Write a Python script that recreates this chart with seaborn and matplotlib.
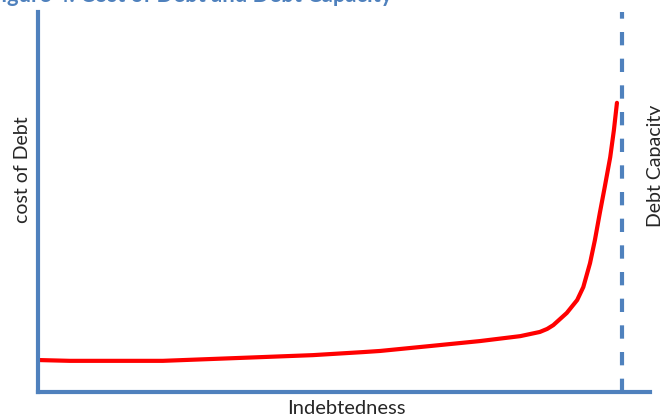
import numpy as np
import pandas as pd
import matplotlib
matplotlib.use("Agg")
import matplotlib.pyplot as plt
import seaborn as sns

# values (axis scaled 0-100 both ways)
indebtedness = [0.3, 5.2, 10.1, 20.4, 28.6, 36.8, 44.9, 53.1, 55.9, 64.1,
                72.2, 78.8, 82.0, 83.2, 84.2, 86.4, 88.1, 89.1, 90.2, 91.0,
                91.8, 92.6, 93.5, 94.1, 94.6]
cost_of_debt = [8.4, 8.2, 8.2, 8.2, 8.7, 9.2, 9.7, 10.5, 10.8, 12.1,
                13.4, 14.7, 15.8, 16.6, 17.6, 20.8, 24.2, 27.6, 33.9, 40.0,
                47.1, 53.9, 61.8, 68.9, 76.1]
debt_capacity = 95.4

title = "Figure 4: Cost of Debt and Debt Capacity"
x_label = "Indebtedness"
y_label = "cost of Debt"
cap_label = "Debt Capacity"

blue = "#4F81BD"

sns.set_style("white")
plt.rcParams["font.family"] = ["Lato", "DejaVu Sans"]

df = pd.DataFrame({"x": indebtedness, "y": cost_of_debt})

fig = plt.figure(figsize=(6.6, 4.15), dpi=100)
ax = fig.add_axes([38 / 660, 23 / 415, 612 / 660, 380 / 415])

sns.lineplot(data=df, x="x", y="y", color="red", linewidth=3, sort=False, ax=ax)
ax.lines[0].set_solid_joinstyle("round")
ax.axvline(debt_capacity, color=blue, linewidth=3, dashes=(3.2, 3.2))

ax.set_xlim(0, 100)
ax.set_ylim(0, 100)
ax.set_xticks([])
ax.set_yticks([])
ax.set_xlabel("")
ax.set_ylabel("")
for side in ["top", "right"]:
    ax.spines[side].set_visible(False)
for side in ["left", "bottom"]:
    ax.spines[side].set_color(blue)
    ax.spines[side].set_linewidth(3)

fig.text(23 / 660, 1 - 170 / 415, y_label, rotation=90, ha="center", va="center", fontsize=14)
fig.text(346 / 660, 1 - 408 / 415, x_label, ha="center", va="center", fontsize=14.5)
fig.text(655 / 660, 1 - 166 / 415, cap_label, rotation=90, ha="center", va="center", fontsize=14)
fig.text(392 / 660, 1 - 1.5 / 415, title, ha="right", va="baseline", fontsize=15.8,
         fontweight="bold", color=blue)

fig.savefig("out.png", dpi=100)
